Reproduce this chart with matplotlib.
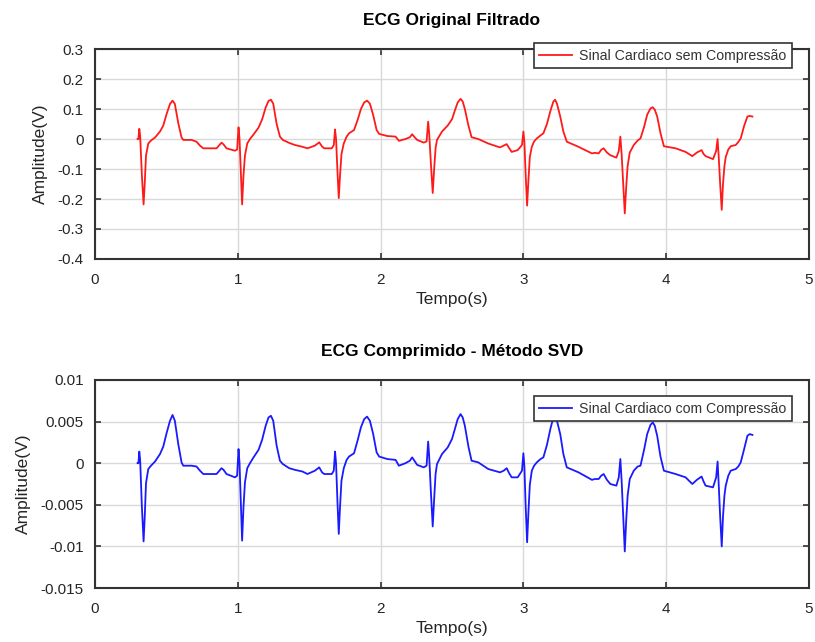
import matplotlib
matplotlib.use('Agg')
from matplotlib import pyplot as plt

# Time samples (s), one line per heart beat
t_ecg = [0.298, 0.304, 0.310, 0.316, 0.328, 0.340, 0.348, 0.357, 0.373, 0.392, 0.420, 0.455, 0.478, 0.501, 0.525,
         0.543, 0.559, 0.583, 0.606, 0.618, 0.676, 0.711, 0.735, 0.758, 0.851, 0.886, 0.900, 0.921, 0.980, 0.995,
         1.005, 1.012, 1.022, 1.030, 1.040, 1.050, 1.066, 1.085, 1.110, 1.145, 1.170, 1.195, 1.215, 1.232,
         1.248, 1.272, 1.295, 1.315, 1.360, 1.400, 1.453, 1.488, 1.540, 1.570, 1.590, 1.605, 1.658, 1.672,
         1.681, 1.688, 1.698, 1.707, 1.716, 1.726, 1.742, 1.762, 1.779, 1.814, 1.840, 1.862, 1.885, 1.905,
         1.925, 1.948, 1.972, 1.990, 2.047, 2.105, 2.128, 2.174, 2.205, 2.221, 2.240, 2.256, 2.302, 2.322,
         2.333, 2.340, 2.352, 2.365, 2.375, 2.385, 2.395, 2.430, 2.470, 2.500, 2.520, 2.540, 2.560, 2.575,
         2.590, 2.615, 2.637, 2.684, 2.754, 2.836, 2.862, 2.883, 2.900, 2.918, 2.960, 2.990,
         3.000, 3.007, 3.016, 3.026, 3.035, 3.045, 3.059, 3.075, 3.094, 3.120, 3.140, 3.165, 3.190, 3.210,
         3.222, 3.235, 3.258, 3.280, 3.304, 3.386, 3.480, 3.500, 3.527, 3.545, 3.562, 3.585, 3.609, 3.651, 3.668,
         3.679, 3.688, 3.699, 3.710, 3.720, 3.730, 3.745, 3.773, 3.800, 3.820, 3.845, 3.867, 3.890, 3.906,
         3.920, 3.937, 3.960, 3.984, 4.066, 4.136, 4.183, 4.215, 4.248, 4.262, 4.276, 4.328, 4.350,
         4.360, 4.368, 4.378, 4.389, 4.398, 4.408, 4.417, 4.435, 4.452, 4.487, 4.505, 4.522, 4.546, 4.569,
         4.585, 4.604]

# ECG original filtrado (V)
v_orig = [0.0, 0.0, 0.034, 0.010, -0.120, -0.218, -0.150, -0.055, -0.015, -0.005, 0.005, 0.025, 0.045, 0.083, 0.117,
          0.128, 0.117, 0.053, 0.005, -0.003, -0.003, -0.009, -0.022, -0.031, -0.031, -0.012, -0.018, -0.031, -0.039, -0.035,
          0.039, 0.0, -0.120, -0.218, -0.120, -0.055, -0.015, 0.0, 0.015, 0.038, 0.065, 0.105, 0.127, 0.131,
          0.118, 0.050, 0.008, -0.003, -0.013, -0.020, -0.026, -0.031, -0.022, -0.011, -0.025, -0.031, -0.031, -0.020,
          0.032, 0.0, -0.110, -0.197, -0.120, -0.050, -0.015, 0.008, 0.019, 0.030, 0.065, 0.100, 0.122, 0.128,
          0.118, 0.080, 0.030, 0.017, 0.010, 0.008, -0.006, 0.0, 0.006, 0.016, 0.005, -0.003, -0.012, -0.008,
          0.058, 0.020, -0.080, -0.180, -0.100, -0.030, -0.003, 0.025, 0.045, 0.066, 0.095, 0.122, 0.134, 0.125,
          0.100, 0.045, 0.006, 0.0, -0.015, -0.028, -0.022, -0.017, -0.030, -0.043, -0.037, -0.020,
          0.025, -0.010, -0.120, -0.222, -0.140, -0.060, -0.026, -0.008, 0.002, 0.012, 0.019, 0.050, 0.095, 0.125,
          0.131, 0.118, 0.075, 0.025, -0.009, -0.026, -0.048, -0.046, -0.048, -0.036, -0.031, -0.045, -0.054, -0.062, -0.040,
          0.008, -0.050, -0.150, -0.248, -0.160, -0.090, -0.045, -0.020, -0.005, 0.002, 0.040, 0.081, 0.102, 0.106,
          0.098, 0.075, 0.020, -0.024, -0.031, -0.043, -0.057, -0.045, -0.037, -0.050, -0.057, -0.067, -0.040,
          0.0, -0.060, -0.150, -0.236, -0.150, -0.090, -0.060, -0.035, -0.024, -0.020, -0.010, 0.002, 0.044, 0.075,
          0.077, 0.075]

# ECG comprimido - metodo SVD (V)
v_comp = [0.0, 0.0, 0.0014, 0.0004, -0.0052, -0.0094, -0.0065, -0.0024, -0.0007, -0.0003, 0.0002, 0.0011, 0.0020, 0.0036, 0.0051,
          0.0058, 0.0051, 0.0023, 0.0001, -0.0003, -0.0003, -0.0004, -0.0009, -0.0013, -0.0013, -0.0006, -0.0008, -0.0013, -0.0017, -0.0015,
          0.0017, 0.0, -0.0052, -0.0093, -0.0052, -0.0023, -0.0006, 0.0, 0.0007, 0.0016, 0.0028, 0.0045, 0.0055, 0.0057,
          0.0051, 0.0021, 0.0003, -0.0001, -0.0006, -0.0008, -0.0010, -0.0013, -0.0009, -0.0005, -0.0011, -0.0013, -0.0013, -0.0009,
          0.0014, 0.0, -0.0047, -0.0085, -0.0052, -0.0021, -0.0006, 0.0004, 0.0008, 0.0012, 0.0028, 0.0043, 0.0053, 0.0056,
          0.0051, 0.0035, 0.0013, 0.0008, 0.0005, 0.0004, -0.0003, 0.0, 0.0003, 0.0007, 0.0002, -0.0002, -0.0005, -0.0003,
          0.0026, 0.0009, -0.0034, -0.0076, -0.0043, -0.0013, -0.0001, 0.0011, 0.0019, 0.0029, 0.0041, 0.0053, 0.0059, 0.0055,
          0.0045, 0.0020, 0.0003, 0.0001, -0.0007, -0.0011, -0.0009, -0.0006, -0.0012, -0.0017, -0.0017, -0.0009,
          0.0012, -0.0004, -0.0052, -0.0095, -0.0060, -0.0026, -0.0009, -0.0003, 0.0001, 0.0005, 0.0007, 0.0022, 0.0042, 0.0055,
          0.0058, 0.0051, 0.0035, 0.0011, -0.0005, -0.0011, -0.0020, -0.0019, -0.0019, -0.0015, -0.0013, -0.0020, -0.0025, -0.0027, -0.0017,
          0.0005, -0.0021, -0.0064, -0.0106, -0.0069, -0.0039, -0.0019, -0.0009, -0.0004, -0.0003, 0.0016, 0.0035, 0.0046, 0.0049,
          0.0045, 0.0033, 0.0008, -0.0009, -0.0013, -0.0017, -0.0025, -0.0020, -0.0016, -0.0022, -0.0027, -0.0029, -0.0017,
          0.0002, -0.0026, -0.0064, -0.0100, -0.0064, -0.0039, -0.0027, -0.0015, -0.0009, -0.0007, -0.0004, 0.0001, 0.0017, 0.0033,
          0.0035, 0.0034]

x_ticks = [0, 1, 2, 3, 4, 5]
y_ticks_orig = [0.3, 0.2, 0.1, 0, -0.1, -0.2, -0.3, -0.4]
y_ticks_comp = [0.01, 0.005, 0, -0.005, -0.01, -0.015]

plt.rcParams['font.family'] = ['Liberation Sans', 'DejaVu Sans']

fig = plt.figure(figsize=(8.15, 6.42), dpi=100)
ax1 = fig.add_axes([0.1166, 0.5966, 0.876, 0.327])
ax2 = fig.add_axes([0.1166, 0.0841, 0.876, 0.324])


def style_axes(ax, yticks, ylim):
    ax.set_xlim(0, 5)
    ax.set_ylim(*ylim)
    ax.set_xticks(x_ticks)
    ax.set_yticks(yticks)
    ax.set_yticklabels([f'{v:g}' for v in yticks])
    ax.grid(True, color='#d9d9d9', linewidth=1)
    ax.set_axisbelow(True)
    ax.tick_params(direction='in', top=True, right=True, length=4, width=1.2,
                   color='#333333', labelsize=11, labelcolor='#262626')
    ax.tick_params(axis='x', pad=10)
    ax.tick_params(axis='y', pad=8)
    for s in ax.spines.values():
        s.set_color('#333333')
        s.set_linewidth(1.5)
    ax.set_xlabel('Tempo(s)', fontsize=12.5, color='#262626', labelpad=4)
    ax.set_ylabel('Amplitude(V)', fontsize=12.5, color='#262626', labelpad=7)


def add_legend(ax, anchor):
    leg = ax.legend(loc='upper right', bbox_to_anchor=anchor, borderaxespad=0,
                    fontsize=10.2, fancybox=False, handlelength=2.3, framealpha=1,
                    borderpad=0.4, handletextpad=0.5)
    leg.get_frame().set_edgecolor('#333333')
    leg.get_frame().set_linewidth(1.2)
    for txt in leg.get_texts():
        txt.set_color('#333333')


ax1.plot(t_ecg, v_orig, color='#ff1a1a', linewidth=1.3, label='Sinal Cardiaco sem Compressão')
style_axes(ax1, y_ticks_orig, (-0.4, 0.3))
ax1.set_title('ECG Original Filtrado', fontsize=12.5, fontweight='bold', pad=17)
add_legend(ax1, (0.976, 1.029))

ax2.plot(t_ecg, v_comp, color='#1a1aff', linewidth=1.3, label='Sinal Cardiaco com Compressão')
style_axes(ax2, y_ticks_comp, (-0.015, 0.01))
ax2.set_title('ECG Comprimido - Método SVD', fontsize=12.5, fontweight='bold', pad=17)
add_legend(ax2, (0.976, 0.923))

fig.savefig('out.png', dpi=100)
